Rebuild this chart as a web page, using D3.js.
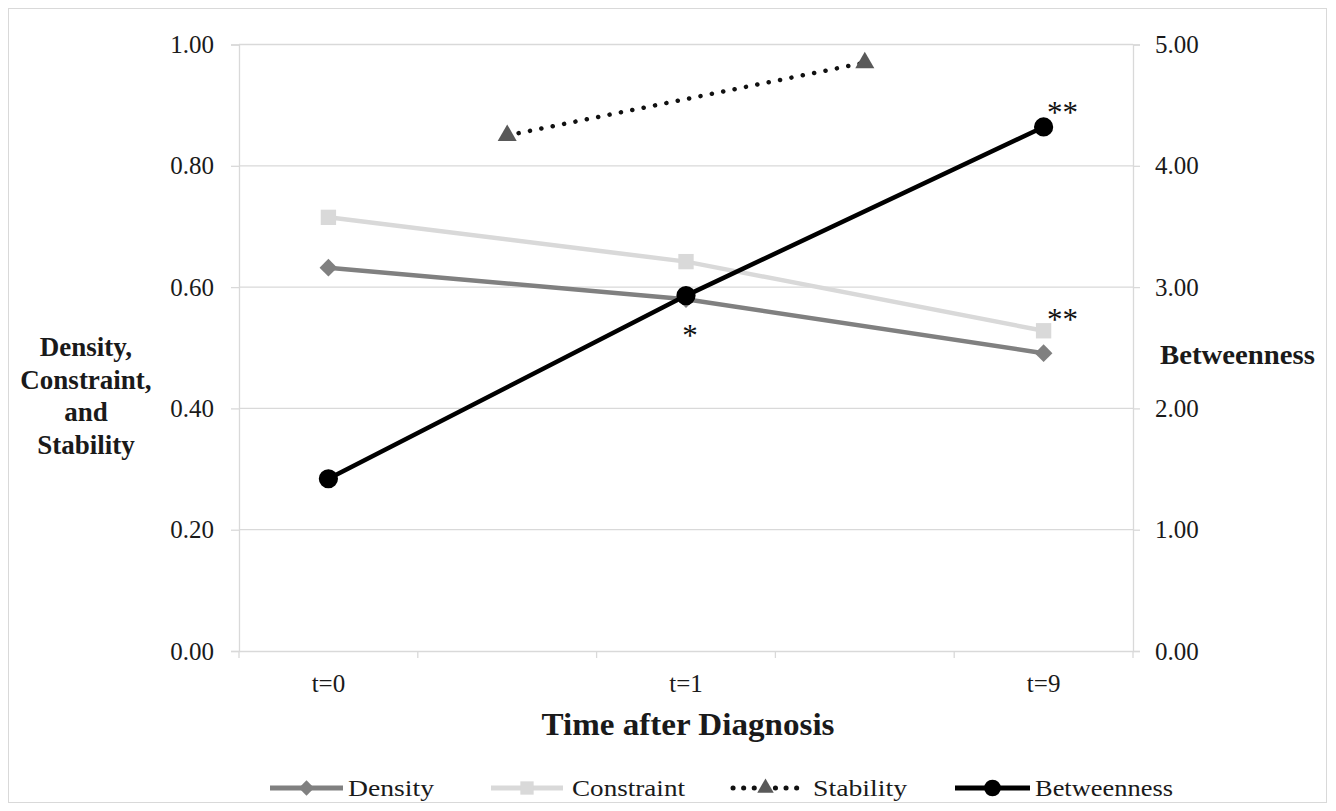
<!DOCTYPE html>
<html>
<head>
<meta charset="utf-8">
<script src="https://cdn.jsdelivr.net/npm/d3@7"></script>
<style>
  body { margin: 0; background: #fff; }
  svg { display: block; font-family: "Liberation Serif", "Times New Roman", serif; }
  svg text { font-family: "Liberation Serif", "Times New Roman", serif; }
</style>
</head>
<body>
<div id="container"></div>
<script>
const width = 1336;
const height = 811;

// category slots (Excel put stability between the waves)
const slots = ["s0", "s1", "s2", "s3", "s4"];
const slotLabels = ["t=0", "", "t=1", "", "t=9"];

const density = [0.632, null, 0.580, null, 0.491];
const constraint = [0.715, null, 0.642, null, 0.528];
const stability = [null, 0.850, null, 0.970, null];
const betweenness = [1.42, null, 2.93, null, 4.32];

const leftTicks = [0, 0.2, 0.4, 0.6, 0.8, 1.0];
const rightTicks = [0, 1, 2, 3, 4, 5];

// significance marks, placed next to a series point
const marks = [
	{ slot: "s2", text: "*", dx: 4, dy: 50, ref: "btw" },
	{ slot: "s4", text: "**", dx: 19, dy: -4, ref: "btw" },
	{ slot: "s4", text: "**", dx: 19, dy: -1, ref: "con" }
];

const plot = { left: 239, right: 1133, top: 44.5, bottom: 651 };

const svg = d3.select("#container")
	.append("svg")
	.attr("width", width)
	.attr("height", height);

// outer frame
svg.append("rect")
	.attr("x", 8.5).attr("y", 8.5)
	.attr("width", 1318).attr("height", 794)
	.attr("fill", "#fff")
	.attr("stroke", "#d9d9d9");

let x = d3.scaleBand().domain(slots).range([plot.left, plot.right]).padding(0);
let yL = d3.scaleLinear().domain([0, 1]).range([plot.bottom, plot.top]);
let yR = d3.scaleLinear().domain([0, 5]).range([plot.bottom, plot.top]);

// gridlines
svg.append("g")
	.selectAll("line")
	.data(leftTicks.slice(1))
	.enter()
	.append("line")
	.attr("x1", plot.left).attr("x2", plot.right)
	.attr("y1", d => yL(d)).attr("y2", d => yL(d))
	.attr("stroke", "#d9d9d9").attr("stroke-width", 1.3);

// left axis
let gL = svg.append("g")
	.attr("transform", "translate(" + plot.left + ",0)")
	.call(d3.axisLeft(yL).tickValues(leftTicks).tickFormat(d3.format(".2f")).tickSize(8).tickPadding(17));
// right axis
let gR = svg.append("g")
	.attr("transform", "translate(" + plot.right + ",0)")
	.call(d3.axisRight(yR).tickValues(rightTicks).tickFormat(d3.format(".2f")).tickSize(7).tickPadding(15));

[gL, gR].forEach(g => {
	g.attr("font-family", null);
	g.select(".domain").attr("stroke", "#d9d9d9").attr("stroke-width", 1.3);
	g.selectAll(".tick line").attr("stroke", "#d9d9d9").attr("stroke-width", 1.3);
	g.selectAll(".tick text")
		.style("font-family", "'Liberation Serif', serif")
		.attr("font-size", 25)
		.attr("fill", "#1a1a1a");
});

// bottom axis
let gB = svg.append("g")
	.attr("transform", "translate(0," + plot.bottom + ")")
	.call(d3.axisBottom(x).tickFormat((d, i) => slotLabels[i]).tickSize(0).tickPadding(23));
gB.attr("font-family", null);
gB.select(".domain").attr("stroke", "#d9d9d9").attr("stroke-width", 1.3);
gB.selectAll(".tick text")
	.style("font-family", "'Liberation Serif', serif")
	.attr("font-size", 25)
	.attr("fill", "#1a1a1a");

// tick marks between categories
let edges = slots.map(s => x(s)).concat([x.range()[1]]);
gB.selectAll(".edge")
	.data(edges)
	.enter()
	.append("line")
	.attr("class", "edge")
	.attr("x1", d => d).attr("x2", d => d)
	.attr("y1", 0).attr("y2", 7)
	.attr("stroke", "#d9d9d9").attr("stroke-width", 1.3);

// axis titles
svg.append("text")
	.attr("x", 688).attr("y", 735)
	.attr("text-anchor", "middle")
	.attr("font-size", 31).attr("font-weight", "bold")
	.attr("fill", "#1a1a1a")
	.attr("textLength", 293)
	.attr("lengthAdjust", "spacingAndGlyphs")
	.text("Time after Diagnosis");

let leftTitle = ["Density,", "Constraint,", "and", "Stability"];
svg.append("text")
	.attr("text-anchor", "middle")
	.attr("font-size", 27).attr("font-weight", "bold")
	.attr("fill", "#1a1a1a")
	.selectAll("tspan")
	.data(leftTitle)
	.enter()
	.append("tspan")
	.attr("x", 86)
	.attr("y", (d, i) => 356 + i * 32.5)
	.text(d => d);

svg.append("text")
	.attr("x", 1160).attr("y", 364)
	.attr("font-size", 27).attr("font-weight", "bold")
	.attr("fill", "#1a1a1a")
	.attr("textLength", 155)
	.attr("lengthAdjust", "spacingAndGlyphs")
	.text("Betweenness");

// series
const series = [
	{ name: "Density", values: density, y: yL, color: "#808080", width: 4.5, dash: null, shape: d3.symbolDiamond2, size: 200, fill: "#808080" },
	{ name: "Constraint", values: constraint, y: yL, color: "#d9d9d9", width: 4.5, dash: null, shape: d3.symbolSquare2, size: 300, fill: "#d9d9d9" },
	{ name: "Stability", values: stability, y: yL, color: "#111", width: 4.5, dash: "0.1 11.5", shape: d3.symbolTriangle2, size: 260, fill: "#595959" },
	{ name: "Betweenness", values: betweenness, y: yR, color: "#000", width: 4.5, dash: null, shape: d3.symbolCircle, size: 290, fill: "#000" }
];

series.forEach(s => {
	let pts = s.values.map((v, i) => ({ slot: slots[i], v: v })).filter(p => p.v !== null);
	let line = d3.line()
		.x(p => x(p.slot) + x.bandwidth() / 2)
		.y(p => s.y(p.v));
	svg.append("path")
		.datum(pts)
		.attr("d", line)
		.attr("fill", "none")
		.attr("stroke", s.color)
		.attr("stroke-width", s.width)
		.attr("stroke-linecap", s.dash ? "round" : "butt")
		.attr("stroke-dasharray", s.dash);
	svg.append("g")
		.selectAll("path")
		.data(pts)
		.enter()
		.append("path")
		.attr("transform", p => "translate(" + (x(p.slot) + x.bandwidth() / 2) + "," + s.y(p.v) + ")")
		.attr("d", d3.symbol().type(s.shape).size(s.size))
		.attr("fill", s.fill);
});

// significance asterisks
let btwAt = slot => yR(betweenness[slots.indexOf(slot)]);
let conAt = slot => yL(constraint[slots.indexOf(slot)]);
svg.append("g")
	.selectAll("text")
	.data(marks)
	.enter()
	.append("text")
	.attr("x", d => x(d.slot) + x.bandwidth() / 2 + d.dx)
	.attr("y", d => (d.ref === "con" ? conAt(d.slot) : btwAt(d.slot)) + d.dy)
	.attr("text-anchor", "middle")
	.attr("font-size", 31)
	.attr("fill", "#111")
	.text(d => d.text);

// legend
const legendItems = [
	{ s: series[0], x0: 270, x1: 343, tx: 348, tl: 86 },
	{ s: series[1], x0: 491, x1: 563, tx: 572, tl: 113 },
	{ s: series[2], x0: 733, x1: 798, tx: 813, tl: 94 },
	{ s: series[3], x0: 955, x1: 1030, tx: 1035, tl: 138 }
];
const legendY = 788;
let lg = svg.append("g").selectAll("g").data(legendItems).enter().append("g");
lg.append("line")
	.attr("x1", d => d.x0).attr("x2", d => d.x1)
	.attr("y1", legendY).attr("y2", legendY)
	.attr("stroke", d => d.s.color)
	.attr("stroke-width", d => d.s.width + 0.5)
	.attr("stroke-linecap", d => d.s.dash ? "round" : "butt")
	.attr("stroke-dasharray", d => d.s.dash ? "0.1 10.5" : null);
lg.append("path")
	.attr("transform", d => "translate(" + (d.x0 + d.x1) / 2 + "," + legendY + ")")
	.attr("d", d => d3.symbol().type(d.s.shape).size(d.s.size * 0.75)())
	.attr("fill", d => d.s.fill);
lg.append("text")
	.attr("x", d => d.tx).attr("y", legendY + 8)
	.attr("font-size", 23)
	.attr("fill", "#1a1a1a")
	.attr("textLength", d => d.tl)
	.attr("lengthAdjust", "spacingAndGlyphs")
	.text(d => d.s.name);
</script>
</body>
</html>
